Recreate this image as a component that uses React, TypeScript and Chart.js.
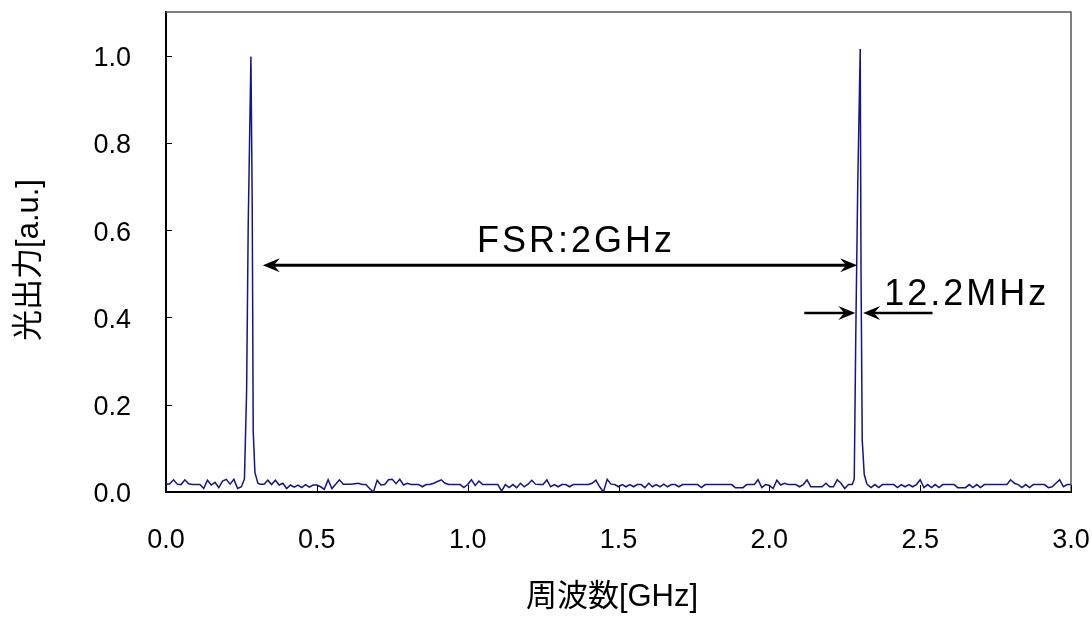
import React, { useEffect, useRef } from 'react';
import { Chart, registerables } from 'chart.js';

Chart.register(...registerables);

// sampling step of the measured spectrum (GHz)
const sampleStep = 0.0125;

// baseline (noise) power, one value per sample from 0.0 GHz
const baselinePower = [
  0.017, 0.019, 0.028, 0.018, 0.017, 0.028, 0.019, 0.017, 0.017, 0.017, 0.008, 0.027, 0.016, 0.022, 0.010, 0.025, 0.029, 0.018, 0.029, 0.008,
  0.012, 0.017, 0.017, 0.017, 0.017, 0.018, 0.018, 0.027, 0.017, 0.027, 0.016, 0.020, 0.008, 0.016, 0.011, 0.016, 0.010, 0.017, 0.011, 0.016,
  0.016, 0.012, 0.006, 0.028, 0.008, 0.018, 0.028, 0.018, 0.018, 0.018, 0.019, 0.020, 0.017, 0.017, 0.008, 0.000, 0.027, 0.016, 0.017, 0.028,
  0.029, 0.019, 0.029, 0.016, 0.020, 0.017, 0.017, 0.017, 0.012, 0.017, 0.017, 0.020, 0.024, 0.028, 0.020, 0.017, 0.017, 0.017, 0.017, 0.010,
  0.017, 0.028, 0.015, 0.025, 0.017, 0.017, 0.017, 0.017, 0.017, 0.002, 0.017, 0.010, 0.017, 0.010, 0.020, 0.012, 0.018, 0.027, 0.018, 0.017,
  0.017, 0.028, 0.012, 0.017, 0.012, 0.017, 0.017, 0.012, 0.017, 0.017, 0.017, 0.017, 0.017, 0.020, 0.027, 0.012, 0.000, 0.029, 0.018, 0.017,
  0.012, 0.017, 0.012, 0.017, 0.012, 0.017, 0.017, 0.010, 0.020, 0.012, 0.017, 0.012, 0.018, 0.012, 0.017, 0.017, 0.012, 0.017, 0.017, 0.017,
  0.017, 0.017, 0.010, 0.017, 0.017, 0.017, 0.017, 0.017, 0.017, 0.017, 0.017, 0.010, 0.010, 0.010, 0.017, 0.017, 0.017, 0.028, 0.010, 0.017,
  0.015, 0.008, 0.027, 0.016, 0.020, 0.017, 0.017, 0.017, 0.012, 0.017, 0.028, 0.012, 0.012, 0.012, 0.012, 0.020, 0.012, 0.012, 0.028, 0.020,
  0.008, 0.017, 0.017, 0.017, 0.017, 0.017, 0.017, 0.010, 0.017, 0.010, 0.017, 0.017, 0.017, 0.017, 0.010, 0.017, 0.012, 0.017, 0.012, 0.017,
  0.028, 0.010, 0.017, 0.010, 0.017, 0.010, 0.017, 0.017, 0.017, 0.017, 0.010, 0.010, 0.010, 0.017, 0.010, 0.017, 0.010, 0.017, 0.017, 0.017,
  0.017, 0.017, 0.017, 0.017, 0.028, 0.020, 0.017, 0.010, 0.017, 0.010, 0.017, 0.017, 0.017, 0.017, 0.010, 0.012, 0.020, 0.028, 0.012, 0.017,
  0.017,
];

// resonance peaks
const peak1Freq = [0.26, 0.2672, 0.2725, 0.2815, 0.2858, 0.2891, 0.2947, 0.3046];
const peak1Power = [0.03, 0.23, 0.61, 0.998, 0.66, 0.14, 0.045, 0.02];
const peak2Freq = [2.2815, 2.2864, 2.293, 2.3013, 2.304, 2.3079, 2.3146, 2.3228];
const peak2Power = [0.03, 0.35, 0.7, 1.015, 0.5, 0.12, 0.04, 0.02];

const xTickValues = [0, 0.5, 1.0, 1.5, 2.0, 2.5, 3.0];
const yTickValues = [0, 0.2, 0.4, 0.6, 0.8, 1.0];

const xTitle = '周波数[GHz]';
const yTitle = '光出力[a.u.]';
const fsrLabel = 'FSR:2GHz';
const widthLabel = '12.2MHz';

const FONT = '"Liberation Sans", Arial, "Noto Sans CJK JP", sans-serif';

function buildPoints() {
  const inPeak = (x: number) =>
    (x > peak1Freq[0] - 0.002 && x < peak1Freq[peak1Freq.length - 1] + 0.002) ||
    (x > peak2Freq[0] - 0.002 && x < peak2Freq[peak2Freq.length - 1] + 0.002);
  const pts: { x: number; y: number }[] = [];
  baselinePower.forEach((v, i) => {
    const x = i * sampleStep;
    if (!inPeak(x)) pts.push({ x, y: v });
  });
  peak1Freq.forEach((f, i) => pts.push({ x: f, y: peak1Power[i] }));
  peak2Freq.forEach((f, i) => pts.push({ x: f, y: peak2Power[i] }));
  pts.sort((a, b) => a.x - b.x);
  return pts;
}

function arrowHead(ctx: CanvasRenderingContext2D, tx: number, ty: number, dir: number, L: number, W: number) {
  ctx.beginPath();
  ctx.moveTo(tx, ty);
  ctx.lineTo(tx - dir * L, ty - W);
  ctx.lineTo(tx - dir * L * 0.65, ty);
  ctx.lineTo(tx - dir * L, ty + W);
  ctx.closePath();
  ctx.fill();
}

const overlayPlugin = {
  id: 'overlay',
  afterDraw(chart: any) {
    const { ctx, chartArea: a, scales } = chart;
    const xs = scales.x;
    const ys = scales.y;
    ctx.save();
    // top & right frame
    ctx.strokeStyle = '#555';
    ctx.lineWidth = 1.5;
    ctx.beginPath();
    ctx.moveTo(a.left, a.top);
    ctx.lineTo(a.right, a.top);
    ctx.lineTo(a.right, a.bottom);
    ctx.stroke();
    // inward tick marks
    ctx.strokeStyle = '#000';
    ctx.lineWidth = 1;
    xTickValues.forEach((v) => {
      const px = Math.round(xs.getPixelForValue(v)) + 0.5;
      ctx.beginPath();
      ctx.moveTo(px, a.bottom);
      ctx.lineTo(px, a.bottom - 7);
      ctx.stroke();
    });
    yTickValues.forEach((v) => {
      const py = Math.round(ys.getPixelForValue(v)) + 0.5;
      ctx.beginPath();
      ctx.moveTo(a.left, py);
      ctx.lineTo(a.left + 6, py);
      ctx.stroke();
    });

    ctx.fillStyle = '#000';
    ctx.strokeStyle = '#000';
    // FSR double arrow
    const fy = ys.getPixelForValue(0.5195);
    const fx1 = xs.getPixelForValue(0.321);
    const fx2 = xs.getPixelForValue(2.291);
    ctx.lineWidth = 3;
    ctx.beginPath();
    ctx.moveTo(fx1 + 10, fy);
    ctx.lineTo(fx2 - 10, fy);
    ctx.stroke();
    arrowHead(ctx, fx1, fy, -1, 17, 7);
    arrowHead(ctx, fx2, fy, 1, 17, 7);

    // linewidth arrows
    const ly = ys.getPixelForValue(0.4103);
    const la1 = xs.getPixelForValue(2.116);
    const la2 = xs.getPixelForValue(2.285);
    const ra1 = xs.getPixelForValue(2.541);
    const ra2 = xs.getPixelForValue(2.311);
    ctx.lineWidth = 2.5;
    ctx.beginPath();
    ctx.moveTo(la1, ly);
    ctx.lineTo(la2 - 10, ly);
    ctx.moveTo(ra1, ly);
    ctx.lineTo(ra2 + 10, ly);
    ctx.stroke();
    arrowHead(ctx, la2, ly, 1, 17, 7);
    arrowHead(ctx, ra2, ly, -1, 17, 7);

    // annotation labels
    ctx.font = `36px ${FONT}`;
    (ctx as any).letterSpacing = '3px';
    ctx.textBaseline = 'alphabetic';
    ctx.textAlign = 'center';
    ctx.fillText(fsrLabel, xs.getPixelForValue(1.359), ys.getPixelForValue(0.549));
    ctx.textAlign = 'left';
    ctx.fillText(widthLabel, xs.getPixelForValue(2.381), ys.getPixelForValue(0.4276));

    // axis titles
    (ctx as any).letterSpacing = '0px';
    ctx.font = `31px ${FONT}`;
    ctx.textAlign = 'center';
    ctx.textBaseline = 'middle';
    ctx.fillText(xTitle, 612, 597);
    ctx.translate(29, 260);
    ctx.rotate(-Math.PI / 2);
    ctx.fillText(yTitle, 0, 0);
    ctx.restore();
  },
};

export default function App() {
  const ref = useRef<HTMLCanvasElement>(null);
  useEffect(() => {
    if (!ref.current) return;
    const chart = new Chart(ref.current, {
      type: 'line',
      data: {
        datasets: [
          {
            data: buildPoints(),
            borderColor: '#14148c',
            borderWidth: 1.5,
            pointRadius: 0,
            tension: 0,
            fill: false,
          },
        ],
      },
      options: {
        responsive: false,
        animation: false,
        layout: { padding: { top: 12, right: 21, left: 0, bottom: 0 } },
        plugins: { legend: { display: false }, tooltip: { enabled: false } },
        scales: {
          x: {
            type: 'linear',
            min: 0,
            max: 3.0,
            grid: { display: false, drawTicks: false },
            border: { display: true, color: '#000', width: 2 },
            afterBuildTicks: (s: any) => {
              s.ticks = xTickValues.map((v) => ({ value: v }));
            },
            afterFit: (s: any) => {
              s.height = 127;
              s.paddingLeft = 0;
              s.paddingRight = 0;
            },
            ticks: {
              padding: 32,
              color: '#000',
              maxRotation: 0,
              font: { family: FONT, size: 27 },
              callback: (v: any) => Number(v).toFixed(1),
            },
          },
          y: {
            type: 'linear',
            min: 0,
            max: 1.1,
            grid: { display: false, drawTicks: false },
            border: { display: true, color: '#000', width: 2 },
            afterBuildTicks: (s: any) => {
              s.ticks = yTickValues.map((v) => ({ value: v }));
            },
            afterFit: (s: any) => {
              s.width = 166;
              s.paddingTop = 0;
              s.paddingBottom = 0;
            },
            ticks: {
              padding: 35,
              labelOffset: 3,
              color: '#000',
              font: { family: FONT, size: 27 },
              callback: (v: any) => Number(v).toFixed(1),
            },
          },
        },
      },
      plugins: [overlayPlugin],
    });
    return () => chart.destroy();
  }, []);
  return (
    <div style={{ position: 'absolute', left: 0, top: 0, width: 1092, height: 619, background: '#fff' }}>
      <canvas ref={ref} width={1092} height={619} style={{ display: 'block' }} />
    </div>
  );
}
